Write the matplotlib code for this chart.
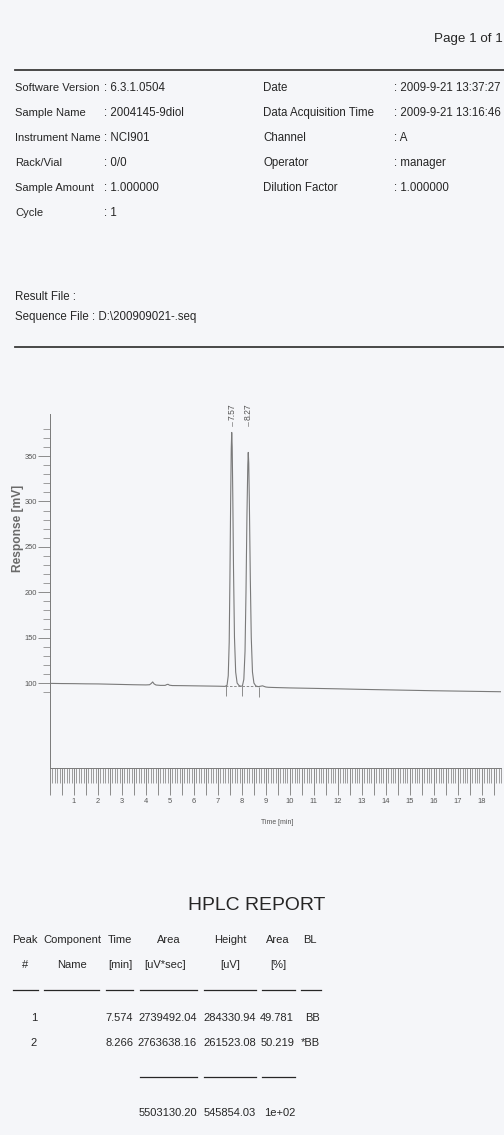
import matplotlib
matplotlib.use('Agg')
import matplotlib.pyplot as plt
import matplotlib.transforms as mtransforms
from matplotlib import font_manager
from matplotlib.lines import Line2D
from matplotlib.ticker import FixedLocator, FixedFormatter

# report header
left_labels = ['Software Version', 'Sample Name', 'Instrument Name', 'Rack/Vial', 'Sample Amount', 'Cycle']
left_values = ['6.3.1.0504', '2004145-9diol', 'NCI901', '0/0', '1.000000', '1']
right_labels = ['Date', 'Data Acquisition Time', 'Channel', 'Operator', 'Dilution Factor']
right_values = ['2009-9-21 13:37:27', '2009-9-21 13:16:46', 'A', 'manager', '1.000000']

# chromatogram, time [min] vs response [mV]
trace_t = [0.0, 0.5, 1.0, 1.5, 2.0, 2.5, 3.0, 3.5, 4.0, 4.15, 4.22, 4.28, 4.34, 4.42,
           4.6, 4.8, 4.87, 4.92, 4.98, 5.1, 5.5, 6.0, 6.5, 7.0, 7.3,
           7.38, 7.43, 7.47, 7.50, 7.53, 7.555, 7.575, 7.595, 7.62, 7.65, 7.69, 7.74, 7.80, 7.88, 7.96,
           8.02, 8.08, 8.13, 8.17, 8.21, 8.245, 8.265, 8.285, 8.31, 8.35, 8.39, 8.44, 8.50, 8.58,
           8.68, 8.78, 8.86, 8.93, 9.0, 9.1, 9.3, 10, 11, 12, 13, 14, 15, 16, 17, 18, 18.8]
trace_mv = [99.6, 99.4, 99.3, 99.1, 99.0, 98.7, 98.4, 98.1, 97.9, 98.1, 99.5, 101.2, 99.0, 97.8,
            97.4, 97.4, 98.3, 98.6, 97.6, 97.2, 97.1, 96.9, 96.7, 96.5, 96.3,
            97.5, 108, 145, 215, 300, 358, 376, 360, 305, 225, 150, 112, 100, 97.2, 96.4,
            96.8, 104, 135, 200, 285, 340, 354, 342, 300, 215, 150, 112, 100, 96.8,
            96.0, 96.5, 96.9, 96.2, 95.6, 95.3, 95.1, 94.6, 94.1, 93.6, 93.0, 92.5, 92.0, 91.5, 91.1, 90.7, 90.4]
peak_rt = [7.57, 8.27]
cut_t = [7.33, 8.01, 8.72]
cut_mv = [96.3, 96.6, 96.0]
base_t = [7.33, 8.72]
base_mv = [96.3, 96.0]

# peak table
peak_no = ['1', '2']
ret_time = ['7.574', '8.266']
area = ['2739492.04', '2763638.16']
height = ['284330.94', '261523.08']
area_pct = ['49.781', '50.219']
bl = ['BB', '*BB']
totals = ['5503130.20', '545854.03', '1e+02']

names = {f.name for f in font_manager.fontManager.ttflist}
if 'Liberation Sans Narrow' in names:
    FONT, k = 'Liberation Sans Narrow', 1.0
else:
    FONT, k = 'Liberation Sans', 0.82
plt.rcParams['font.family'] = [FONT, 'DejaVu Sans']

INK = '#262626'
INK2 = '#555555'
LINE = '#7a7a7a'
W, H = 504, 1135

fig = plt.figure(figsize=(W / 100, H / 100), dpi=100, facecolor='#f5f6f9')


def txt(x, y, s, size, ha='left', color=INK, **kw):
    fig.text(x / W, 1 - y / H, s, fontsize=size * k, ha=ha, va='center', color=color, **kw)


def hline(x0, x1, y, lw=0.8, color=INK):
    fig.add_artist(Line2D([x0 / W, x1 / W], [1 - y / H, 1 - y / H], lw=lw, color=color))


# header block
txt(503, 39, 'Page 1 of 1', 11.7, ha='right')
hline(15, 504, 70, lw=1.3, color='#3a3a3a')
for i, (lab, val) in enumerate(zip(left_labels, left_values)):
    y = 88 + 25 * i
    txt(15, y, lab, 9.8)
    txt(104, y, ': ' + val, 10.1)
for i, (lab, val) in enumerate(zip(right_labels, right_values)):
    y = 88 + 25 * i
    txt(263, y, lab, 10.1)
    txt(394, y, ': ' + val, 10.1)
txt(15, 297, 'Result File :', 10.1)
txt(15, 317, 'Sequence File : D:\\200909021-.seq', 10.1)
hline(15, 504, 347, lw=1.3, color='#3a3a3a')

# chromatogram
ax = fig.add_axes([50 / W, 1 - 768 / H, 451 / W, 354 / H])
ax.set_facecolor('none')
ax.plot(trace_t, trace_mv, color=LINE, lw=0.8)
ax.plot(base_t, base_mv, color=LINE, lw=0.6, ls=(0, (3, 2)))
ax.vlines(cut_t, [v - 11 for v in cut_mv], cut_mv, color=LINE, lw=0.6)
ax.set_xlim(0, 18.8)
ax.set_ylim(6.4, 396.3)
for s in ['top', 'right']:
    ax.spines[s].set_visible(False)
for s in ['left', 'bottom']:
    ax.spines[s].set_color(LINE)
    ax.spines[s].set_linewidth(0.7)

xmaj = [i * 0.5 for i in range(38)]
ax.xaxis.set_major_locator(FixedLocator(xmaj))
ax.xaxis.set_major_formatter(FixedFormatter([str(int(t)) if t % 1 == 0 and t > 0 else '' for t in xmaj]))
ax.xaxis.set_minor_locator(FixedLocator([i / 10 for i in range(189)]))
ax.yaxis.set_major_locator(FixedLocator([100, 150, 200, 250, 300, 350]))
ax.yaxis.set_minor_locator(FixedLocator(list(range(90, 390, 10))))
ax.tick_params(axis='x', which='major', direction='out', length=19.5, width=0.6, color=LINE,
               labelsize=6.6 * k, labelcolor=INK2, pad=2)
ax.tick_params(axis='x', which='minor', direction='out', length=10.8, width=0.5, color=LINE)
ax.tick_params(axis='y', which='major', direction='out', length=8.6, width=0.6, color=LINE,
               labelsize=6.6 * k, labelcolor=INK2, pad=0.5)
ax.tick_params(axis='y', which='minor', direction='out', length=5, width=0.5, color=LINE)

ax.set_ylabel('Response [mV]', fontsize=10.5 * k, fontweight='bold', color='#6a6a6a')
ax.yaxis.set_label_coords(-0.058, 0.678)
ax.set_xlabel('Time [min]', fontsize=6 * k, color=INK2)
ax.xaxis.set_label_coords(0.503, -0.145)

trans = mtransforms.blended_transform_factory(ax.transData, ax.transAxes)
for rt in peak_rt:
    ax.text(rt, 0.983, f'{rt:.2f}', transform=trans, rotation=90, ha='center', va='bottom',
            fontsize=7.5 * k, color=INK2, clip_on=False)
    ax.plot([rt, rt], [0.966, 0.978], transform=trans, color=LINE, lw=0.5, clip_on=False)

# peak table
txt(257, 905, 'HPLC REPORT', 17, ha='center')
head1 = [('Peak', 25), ('Component', 72), ('Time', 120), ('Area', 169), ('Height', 230), ('Area', 278), ('BL', 310)]
head2 = [('#', 25), ('Name', 72), ('[min]', 120), ('[uV*sec]', 165), ('[uV]', 230), ('[%]', 278)]
for s, x in head1:
    txt(x, 940, s, 9.8, ha='center')
for s, x in head2:
    txt(x, 965, s, 9.8, ha='center')
for x0, x1 in [(13, 38), (44, 99), (106, 133), (140, 197), (204, 256), (262, 295), (301, 321)]:
    hline(x0, x1, 990, lw=0.9)

cols = [(peak_no, 37), (ret_time, 133), (area, 197), (height, 256), (area_pct, 294), (bl, 320)]
for j, y in enumerate([1018, 1043]):
    for values, xr in cols:
        txt(xr, y, values[j], 9.8, ha='right')
for x0, x1 in [(140, 197), (204, 256), (262, 295)]:
    hline(x0, x1, 1077, lw=0.9)
for s, xr in zip(totals, [197, 256, 295]):
    txt(xr, 1113, s, 9.8, ha='right')

fig.savefig('out.png', dpi=100, facecolor=fig.get_facecolor())
